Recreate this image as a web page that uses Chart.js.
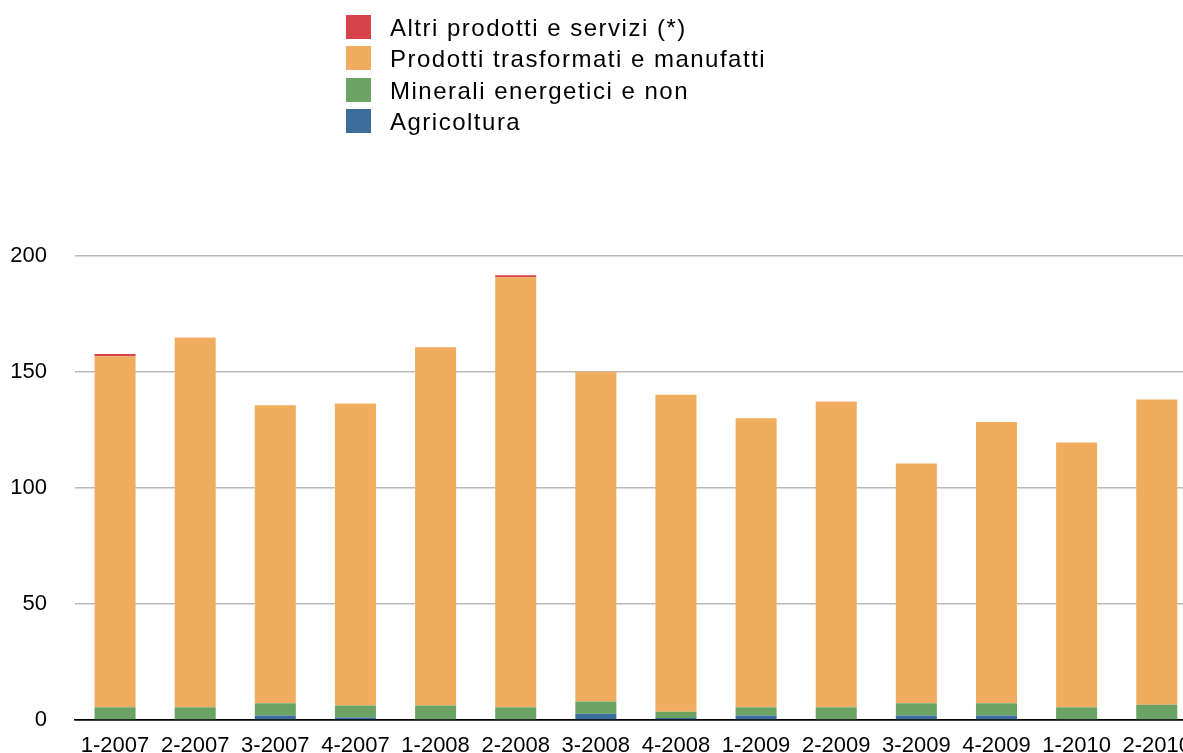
<!DOCTYPE html>
<html>
<head>
<meta charset="utf-8">
<script src="https://cdn.jsdelivr.net/npm/chart.js@4/dist/chart.umd.min.js"></script>
<style>
  html, body { margin: 0; padding: 0; background: #fff; overflow: hidden; width: 1183px; height: 753px; }
  #wrap { position: absolute; left: 0; top: 0; width: 1204px; height: 762px; }
  #legend { position: absolute; left: 346px; top: 15px; font-family: "Liberation Sans", Arial, sans-serif; font-size: 24px; letter-spacing: 1.5px; color: #000; }
  .item { height: 31.3px; display: flex; align-items: flex-start; }
  .box { width: 25px; height: 24px; margin-right: 19px; flex: none; }
  .lbl { line-height: 25px; white-space: nowrap; }
</style>
</head>
<body>
<div id="wrap"><canvas id="chart"></canvas></div>
<div id="legend"></div>
<script>
const categories = ['1-2007', '2-2007', '3-2007', '4-2007', '1-2008', '2-2008', '3-2008', '4-2008',
  '1-2009', '2-2009', '3-2009', '4-2009', '1-2010', '2-2010'];
const agricoltura = [0, 0, 1.9, 1.1, 0, 0, 2.7, 0.9, 1.9, 0, 1.9, 1.9, 0, 0];
const minerali = [5.5, 5.5, 5.3, 5.2, 6.3, 5.5, 5.3, 2.7, 3.6, 5.5, 5.3, 5.3, 5.5, 6.6];
const prodotti = [151.3, 159.4, 128.5, 130.1, 154.4, 185.3, 142.1, 136.6, 124.6, 131.8, 103.4, 121.2, 114.1, 131.6];
const altri = [1.0, 0, 0, 0, 0, 0.9, 0, 0, 0, 0, 0, 0, 0, 0];
const yTicks = [0, 50, 100, 150, 200];

const ctx = document.getElementById('chart').getContext('2d');

const datasets = [
  { label: 'Agricoltura', data: agricoltura, backgroundColor: '#3d6d9b' },
  { label: 'Minerali energetici e non', data: minerali, backgroundColor: '#6aa364' },
  { label: 'Prodotti trasformati e manufatti', data: prodotti, backgroundColor: '#f1ad5f' },
  { label: 'Altri prodotti e servizi (*)', data: altri, backgroundColor: '#d6434b' }
];

const chart = new Chart(ctx, {
  type: 'bar',
  data: {
    labels: categories,
    datasets: datasets.map(d => ({
      ...d,
      borderWidth: 0,
      categoryPercentage: 1,
      barPercentage: 0.512
    }))
  },
  options: {
    responsive: true,
    maintainAspectRatio: false,
    animation: false,
    layout: { padding: { top: 256, right: 0, left: 0, bottom: 0 } },
    plugins: {
      legend: { display: false },
      tooltip: { enabled: false }
    },
    scales: {
      x: {
        stacked: true,
        grid: { display: false, drawTicks: false },
        border: { display: true, color: '#000', width: 1.5 },
        ticks: {
          color: '#000',
          font: { family: 'Liberation Sans', size: 22 },
          padding: 13,
          maxRotation: 0,
          autoSkip: false
        },
        afterFit: (scale) => { scale.height = 42; }
      },
      y: {
        stacked: true,
        min: 0,
        max: 200,
        border: { display: false },
        grid: {
          drawTicks: false,
          lineWidth: 1.5,
          color: (c) => c.tick && c.tick.value === 0 ? '#000' : '#b9b9b9'
        },
        afterBuildTicks: (scale) => { scale.ticks = yTicks.map(v => ({ value: v })); },
        ticks: {
          color: '#000',
          font: { family: 'Liberation Sans', size: 22 },
          padding: 28
        },
        afterFit: (scale) => { scale.width = 75; }
      }
    }
  }
});

const legendEl = document.getElementById('legend');
chart.data.datasets.slice().reverse().forEach(ds => {
  const item = document.createElement('div');
  item.className = 'item';
  const box = document.createElement('div');
  box.className = 'box';
  box.style.background = ds.backgroundColor;
  const lbl = document.createElement('div');
  lbl.className = 'lbl';
  lbl.textContent = ds.label;
  item.appendChild(box);
  item.appendChild(lbl);
  legendEl.appendChild(item);
});
</script>
</body>
</html>
